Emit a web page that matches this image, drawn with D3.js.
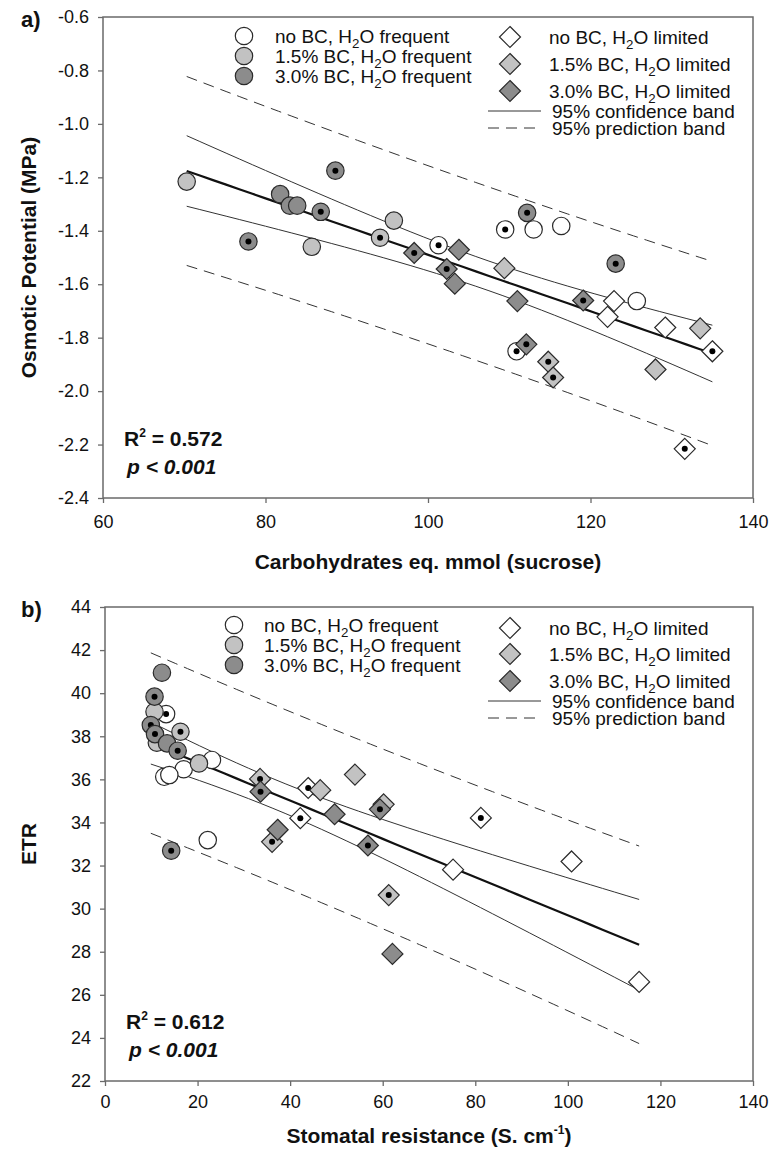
<!DOCTYPE html>
<html>
<head>
<meta charset="utf-8">
<script src="https://cdn.jsdelivr.net/npm/d3@7"></script>
<style>
body { margin: 0; background: #fff; }
text { font-family: "Liberation Sans", Arial, sans-serif; fill: #111; }
.narrow { font-family: "Liberation Sans Narrow", "Arial Narrow", "Liberation Sans", sans-serif; font-weight: bold; }
</style>
</head>
<body>
<svg width="781" height="1158"></svg>
<script>
var svg = d3.select("svg");

// legend labels
var labelsFreq = ["no BC", "1.5% BC", "3.0% BC"];
var bandLabels = ["95% confidence band", "95% prediction band"];

// panel a: [carbohydrates, osmotic potential, centre dot]
var aFreq0  = [[101.3,-1.454,1],[109.5,-1.395,1],[113.0,-1.395,0],[116.4,-1.382,0],[125.7,-1.663,0],[110.9,-1.851,1]];
var aFreq15 = [[70.3,-1.216,0],[85.7,-1.46,0],[95.8,-1.362,0],[94.1,-1.426,1]];
var aFreq30 = [[81.8,-1.263,0],[83.0,-1.306,0],[83.9,-1.306,0],[86.8,-1.329,1],[88.6,-1.175,1],[77.9,-1.44,1],[112.2,-1.333,1],[123.1,-1.523,1]];
var aLim0   = [[122.9,-1.663,0],[122.1,-1.722,0],[129.2,-1.762,0],[135.0,-1.851,1],[131.6,-2.216,1]];
var aLim15  = [[109.4,-1.54,0],[133.5,-1.765,0],[128.0,-1.919,0],[114.8,-1.89,1],[115.4,-1.949,1]];
var aLim30  = [[98.3,-1.483,1],[103.8,-1.471,0],[102.3,-1.543,1],[103.3,-1.598,0],[111.0,-1.663,0],[119.1,-1.661,1],[112.1,-1.825,1]];

// panel b: [stomatal resistance, ETR, centre dot]
var bFreq0  = [[13.2,39.03,1],[23.1,36.9,0],[17.0,36.47,0],[12.8,36.12,1],[13.9,36.2,0],[22.2,33.18,0]];
var bFreq15 = [[10.7,39.14,0],[11.2,37.7,0],[20.3,36.74,0],[16.3,38.21,1]];
var bFreq30 = [[12.3,40.95,0],[10.7,39.84,1],[9.9,38.52,1],[10.8,38.1,1],[13.4,37.67,0],[15.7,37.33,1],[14.3,32.69,1]];
var bLim0   = [[43.9,35.6,1],[42.2,34.2,1],[81.2,34.21,1],[100.8,32.19,0],[75.2,31.81,0],[115.4,26.6,0]];
var bLim15  = [[33.5,36.02,1],[46.5,35.5,0],[54.0,36.22,0],[36.1,33.1,1],[60.2,34.84,0],[61.3,30.63,1]];
var bLim30  = [[33.6,35.43,1],[49.6,34.38,0],[37.3,33.66,0],[59.4,34.61,1],[56.8,32.93,1],[62.1,27.9,0]];

// ticks
var aXTicks = [60, 80, 100, 120, 140];
var aYTicks = [-0.6, -0.8, -1.0, -1.2, -1.4, -1.6, -1.8, -2.0, -2.2, -2.4];
var bXTicks = [0, 20, 40, 60, 80, 100, 120, 140];
var bYTicks = [22, 24, 26, 28, 30, 32, 34, 36, 38, 40, 42, 44];

var fills = ["#ffffff", "#c2c2c2", "#8c8c8c"];

//simple least squares with 95% bands
function fit(pts) {
	var n = pts.length,
		mx = d3.mean(pts, function(d) { return d[0]; }),
		my = d3.mean(pts, function(d) { return d[1]; }),
		sxx = d3.sum(pts, function(d) { return (d[0] - mx) * (d[0] - mx); }),
		sxy = d3.sum(pts, function(d) { return (d[0] - mx) * (d[1] - my); });
	var b = sxy / sxx, a = my - b * mx;
	var sse = d3.sum(pts, function(d) { var r = d[1] - a - b * d[0]; return r * r; });
	var s = Math.sqrt(sse / (n - 2)), t = 2.035;
	var e = d3.extent(pts, function(d) { return d[0]; });
	return d3.range(0, 41).map(function(i) {
		var x = e[0] + (e[1] - e[0]) * i / 40;
		var yh = a + b * x, k = 1 / n + (x - mx) * (x - mx) / sxx;
		return {x: x, y: yh, c: t * s * Math.sqrt(k), p: t * s * Math.sqrt(1 + k)};
	});
}

function sub(sel, pre, s, post, dy) {
	sel.append("tspan").text(pre);
	sel.append("tspan").attr("font-size", "70%").attr("dy", dy).text(s);
	sel.append("tspan").attr("dy", -dy).text(post);
}

function diamond(r) { return "M0," + (-r) + "L" + r + ",0L0," + r + "L" + (-r) + ",0Z"; }

function panel(o) {
	var x = d3.scaleLinear().domain(o.xDomain).range([o.left, o.right]);
	var y = d3.scaleLinear().domain(o.yDomain).range([o.bottom, o.top]);
	var g = svg.append("g");

	g.append("rect")
		.attr("x", o.left).attr("y", o.top)
		.attr("width", o.right - o.left).attr("height", o.bottom - o.top)
		.attr("fill", "none").attr("stroke", "#6a6a6a").attr("stroke-width", 1.5);

	var ax = g.append("g").attr("transform", "translate(0," + o.bottom + ")")
		.call(d3.axisBottom(x).tickValues(o.xTicks).tickSize(5).tickPadding(o.xPad).tickFormat(d3.format("d")));
	var ay = g.append("g").attr("transform", "translate(" + o.left + ",0)")
		.call(d3.axisLeft(y).tickValues(o.yTicks).tickSize(5).tickPadding(9).tickFormat(o.yFmt));
	[ax, ay].forEach(function(a) {
		a.select(".domain").remove();
		a.selectAll("line").attr("stroke", "#6a6a6a").attr("stroke-width", 1.3);
		a.selectAll("text").attr("font-size", 18).attr("font-family", "Liberation Sans, Arial, sans-serif").attr("fill", "#111");
	});

	//regression lines
	var all = [].concat.apply([], o.freq.concat(o.lim));
	var band = fit(all);
	function ln(f) { return d3.line().x(function(d) { return x(d.x); }).y(f)(band); }
	var lines = [
		[function(d) { return y(d.y + d.p); }, 1, "11,7"],
		[function(d) { return y(d.y - d.p); }, 1, "11,7"],
		[function(d) { return y(d.y + d.c); }, 1, null],
		[function(d) { return y(d.y - d.c); }, 1, null],
		[function(d) { return y(d.y); }, 2.2, null]
	];
	lines.forEach(function(l) {
		g.append("path").attr("d", ln(l[0])).attr("fill", "none")
			.attr("stroke", l[1] > 2 ? "#111" : "#333").attr("stroke-width", l[1])
			.attr("stroke-dasharray", l[2]);
	});

	//markers
	function draw(data, fill, shape) {
		var m = g.append("g").selectAll("g").data(data).enter().append("g")
			.attr("transform", function(d) { return "translate(" + x(d[0]) + "," + y(d[1]) + ")"; });
		if (shape == "c") m.append("circle").attr("r", 8.7);
		else m.append("path").attr("d", diamond(10.5));
		m.selectAll("circle,path").attr("fill", fill).attr("stroke", "#2a2a2a").attr("stroke-width", 1.2);
		m.filter(function(d) { return d[2]; }).append("circle").attr("r", 3).attr("fill", "#000");
	}
	o.freq.forEach(function(d, i) { draw(d, fills[i], "c"); });
	o.lim.forEach(function(d, i) { draw(d, fills[i], "d"); });

	//legend
	var L = o.leg;
	labelsFreq.forEach(function(lab, i) {
		var yy = o.top + L.rows[i];
		g.append("circle").attr("cx", L.cx).attr("cy", yy).attr("r", 8.7)
			.attr("fill", fills[i]).attr("stroke", "#2a2a2a").attr("stroke-width", 1.2);
		var t = g.append("text").attr("x", L.tx).attr("y", yy + 7).attr("font-size", 19);
		sub(t, lab + ", H", "2", "O frequent", 5);
	});
	labelsFreq.forEach(function(lab, i) {
		var yy = o.top + L.rows2[i];
		g.append("path").attr("transform", "translate(" + L.dx + "," + yy + ")").attr("d", diamond(10.5))
			.attr("fill", fills[i]).attr("stroke", "#2a2a2a").attr("stroke-width", 1.2);
		var t = g.append("text").attr("x", L.tx2).attr("y", yy + 7).attr("font-size", 19);
		sub(t, lab + ", H", "2", "O limited", 5);
	});
	bandLabels.forEach(function(lab, i) {
		var yy = o.top + L.rows3[i];
		g.append("line").attr("x1", L.lx[0]).attr("x2", L.lx[1]).attr("y1", yy).attr("y2", yy)
			.attr("stroke", "#333").attr("stroke-width", 1).attr("stroke-dasharray", i ? "11,7" : null);
		g.append("text").attr("x", L.tx3).attr("y", yy + 7).attr("font-size", 19).text(lab);
	});

	//stats text
	var r = g.append("text").attr("class", "narrow").attr("x", o.left + 21).attr("y", o.r2y).attr("font-size", 21);
	r.append("tspan").text("R");
	r.append("tspan").attr("font-size", 12).attr("dy", -9).text("2");
	r.append("tspan").attr("dy", 9).text(" = " + o.r2);
	g.append("text").attr("class", "narrow").attr("x", o.left + 24).attr("y", o.r2y + 28)
		.attr("font-size", 21).attr("font-style", "italic").text("p < 0.001");

	//titles
	g.append("text").attr("class", "narrow").attr("font-size", 22)
		.attr("x", 21).attr("y", o.top + 10).text(o.tag);
	g.append("text").attr("class", "narrow").attr("font-size", 21).attr("text-anchor", "middle")
		.attr("transform", "translate(36," + (o.top + o.bottom) / 2 + ") rotate(-90)").text(o.yTitle);
	var xt = g.append("text").attr("class", "narrow").attr("font-size", 21).attr("text-anchor", "middle")
		.attr("x", (o.left + o.right) / 2).attr("y", o.bottom + o.titleGap);
	if (o.xSup) {
		xt.append("tspan").text(o.xTitle);
		xt.append("tspan").attr("font-size", 12).attr("dy", -9).text(o.xSup);
		xt.append("tspan").attr("dy", 9).text(")");
	} else xt.text(o.xTitle);
}

panel({
	left: 103, right: 753, top: 17, bottom: 498,
	xDomain: [60, 140], yDomain: [-2.4, -0.6], xTicks: aXTicks, yTicks: aYTicks, xPad: 12, titleGap: 71,
	yFmt: function(d) { return d.toFixed(1); },
	freq: [aFreq0, aFreq15, aFreq30], lim: [aLim0, aLim15, aLim30],
	leg: {cx: 244, tx: 275, rows: [19, 39, 59], dx: 510, tx2: 549, rows2: [20, 47, 74], lx: [488, 541], tx3: 552, rows3: [94, 111]},
	r2: "0.572", r2y: 446, tag: "a)",
	yTitle: "Osmotic Potential (MPa)", xTitle: "Carbohydrates eq. mmol (sucrose)"
});

panel({
	left: 105, right: 753, top: 607, bottom: 1081,
	xDomain: [0, 140], yDomain: [22, 44], xTicks: bXTicks, yTicks: bYTicks, xPad: 9, titleGap: 62,
	yFmt: d3.format("d"),
	freq: [bFreq0, bFreq15, bFreq30], lim: [bLim0, bLim15, bLim30],
	leg: {cx: 234, tx: 264, rows: [18, 38, 58], dx: 510, tx2: 549, rows2: [21, 47, 74], lx: [488, 541], tx3: 552, rows3: [94, 111]},
	r2: "0.612", r2y: 1029, tag: "b)",
	yTitle: "ETR", xTitle: "Stomatal resistance (S. cm", xSup: "-1"
});
</script>
</body>
</html>
